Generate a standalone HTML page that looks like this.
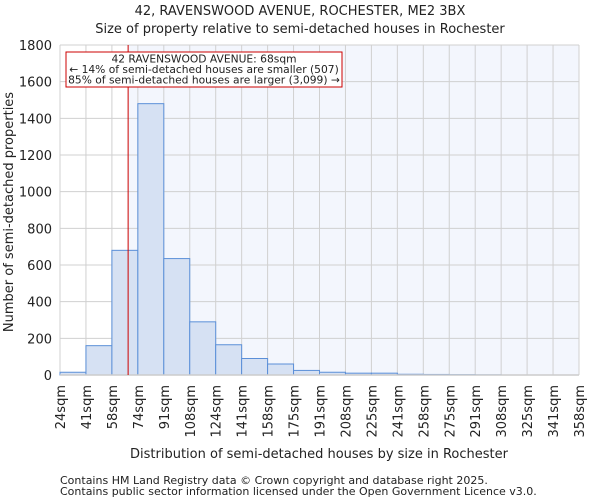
<!DOCTYPE html>
<html><head><meta charset="utf-8"><style>
body{margin:0;background:#fff;font-family:"DejaVu Sans","Liberation Sans",sans-serif;}
svg text{font-family:"DejaVu Sans","Liberation Sans",sans-serif;fill:#222;}
</style></head><body>
<svg id="chart" width="600" height="500" xmlns="http://www.w3.org/2000/svg">
<text x="300" y="15" text-anchor="middle" font-size="13">42, RAVENSWOOD AVENUE, ROCHESTER, ME2 3BX</text>
<text x="300" y="33" text-anchor="middle" font-size="13">Size of property relative to semi-detached houses in Rochester</text>
<g id="plot"></g>
<text x="319" y="458" text-anchor="middle" font-size="13">Distribution of semi-detached houses by size in Rochester</text>
<text transform="translate(13,212) rotate(-90)" text-anchor="middle" font-size="13">Number of semi-detached properties</text>
<text x="60" y="484" font-size="11" fill="#444">Contains HM Land Registry data © Crown copyright and database right 2025.</text>
<text x="60" y="495" font-size="11" fill="#444">Contains public sector information licensed under the Open Government Licence v3.0.</text>
</svg>
<script>
const binLabels=["24sqm","41sqm","58sqm","74sqm","91sqm","108sqm","124sqm","141sqm","158sqm","175sqm","191sqm","208sqm","225sqm","241sqm","258sqm","275sqm","291sqm","308sqm","325sqm","341sqm","358sqm"];
const counts=[15,160,680,1480,635,290,165,90,60,25,15,10,10,4,3,2,1,0,0,0];
const yTicks=[0,200,400,600,800,1000,1200,1400,1600,1800];
const markerBin=2+10/16;
const NS="http://www.w3.org/2000/svg";
const L=60,R=579,T=45,B=375,yMax=1800;
const n=counts.length;
const xs=i=>L+(R-L)*i/n;
const ys=v=>B-(B-T)*v/yMax;
const g=document.getElementById('plot');
function mk(t,a){const e=document.createElementNS(NS,t);for(const k in a)e.setAttribute(k,a[k]);g.appendChild(e);return e;}
const mx=xs(markerBin);
let e=mk('rect',{x:L,y:T,width:R-L,height:B-T,fill:'#fff'});


e=mk('rect',{x:mx,y:T,width:R-mx,height:B-T,fill:'#f3f6fd'});


for(let i=0;i<=n;i++){e=mk('line',{x1:xs(i),x2:xs(i),y1:T,y2:B,stroke:'#d0d0d0','stroke-width':1});

}
yTicks.forEach(v=>{e=mk('line',{x1:L,x2:R,y1:ys(v),y2:ys(v),stroke:'#d0d0d0','stroke-width':1});


const t=mk('text',{x:L-8,y:ys(v)+5,'text-anchor':'end','font-size':13});t.textContent=v;

});
counts.forEach((c,i)=>{if(c<=0)return;e=mk('rect',{x:xs(i),y:ys(c),width:xs(i+1)-xs(i),height:B-ys(c),fill:'#d6e1f3',stroke:'#5b8fd8','stroke-width':1});

});
e=mk('line',{x1:L,x2:R,y1:B,y2:B,stroke:'#ccc','stroke-width':1.5});


binLabels.forEach((s,i)=>{const t=mk('text',{transform:`translate(${xs(i)+5},${B+10}) rotate(-90)`,'text-anchor':'end','font-size':13});t.textContent=s;

});
e=mk('line',{x1:mx,x2:mx,y1:T,y2:B,stroke:'#cc0000','stroke-width':1});


e=mk('rect',{x:66,y:52,width:276,height:35,fill:'#fff',stroke:'#cc0000','stroke-width':1});


["42 RAVENSWOOD AVENUE: 68sqm","← 14% of semi-detached houses are smaller (507)","85% of semi-detached houses are larger (3,099) →"].forEach((s,i)=>{const t=mk('text',{x:204,y:62.5+i*10.5,'text-anchor':'middle','font-size':10.7});t.textContent=s;

});
</script>
</body></html>
